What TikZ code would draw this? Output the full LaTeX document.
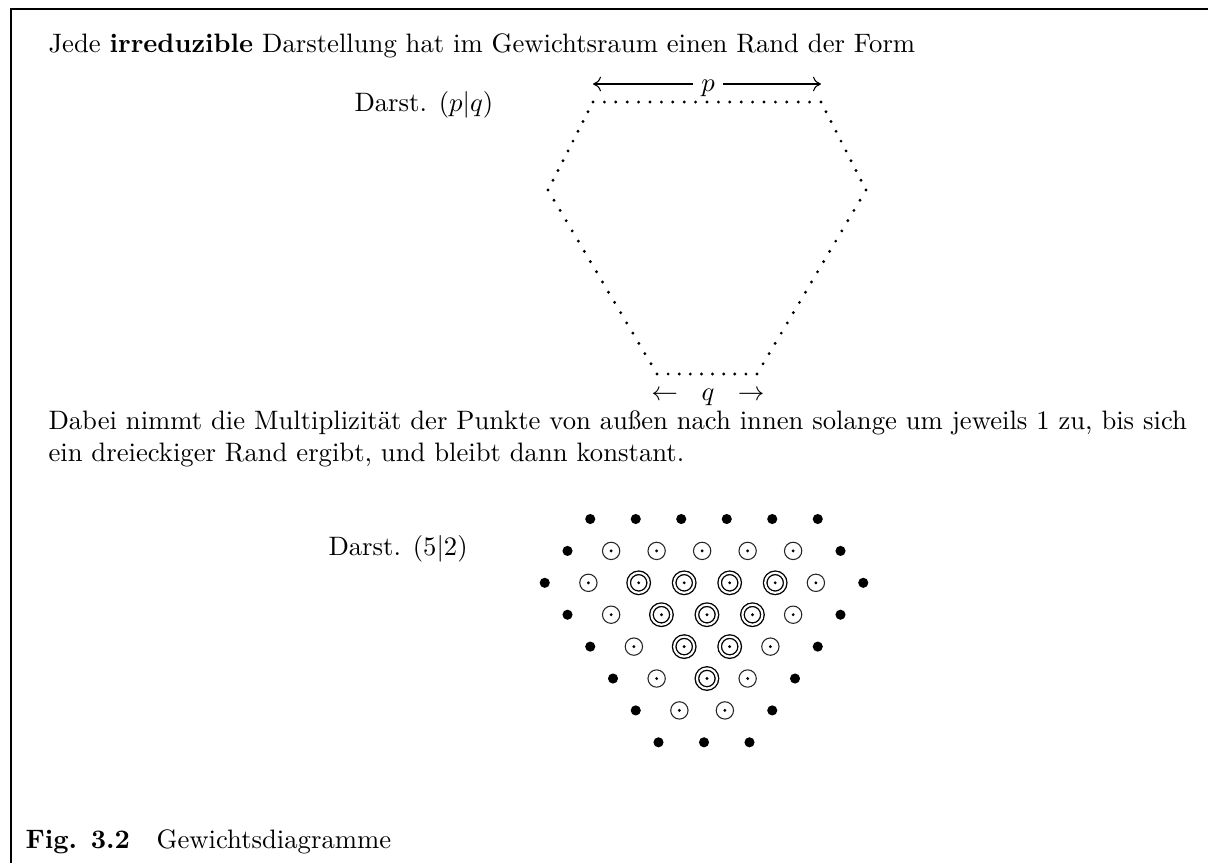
\documentclass[tikz,border=0pt]{standalone}
\usepackage{tikz}
\usetikzlibrary{arrows.meta, calc}

\begin{document}
\begin{tikzpicture}[
    x=0.375pt, y=-0.375pt,
    txt/.style={anchor=base west, inner sep=0pt},
    pfeil/.style={-{Computer Modern Rightarrow[length=3pt, width=5.5pt]}, line width=0.4pt},
    voll/.style={circle, fill=black, inner sep=0pt, minimum size=3.8pt},
    mitte/.style={path picture={\fill (path picture bounding box.center) circle (0.6pt);}},
    einfach/.style={circle, draw=black!85, line width=0.4pt, inner sep=0pt, minimum size=6.5pt, xshift=-0.7pt, mitte},
    zweifach/.style={circle, draw=black, line width=0.5pt, double, double distance=0.8pt, inner sep=0pt, minimum size=7.5pt, xshift=1.1pt, mitte}
]
    \useasboundingbox (0,0) rectangle (1208,863);

    % Rahmen
    \coordinate (eck) at (11,9);
    \draw[line width=0.6pt] (1208,9) -- (eck) -- (11,863);

    \node[txt] (satz1) at (48,52) {Jede \textbf{irreduzible} Darstellung hat im Gewichtsraum einen Rand der Form};
    \node[txt] (darst1) at (354,111) {Darst. $(p|q)$};

    % Rand der Darstellung (p|q)
    \coordinate (A) at (593,102);
    \coordinate (B) at (821,102);
    \coordinate (C) at (866,190);
    \coordinate (D) at (757,374);
    \coordinate (E) at (657,374);
    \coordinate (F) at (548,190);
    \foreach \von/\bis/\anz in {A/B/20, B/C/9, C/D/18, D/E/9, E/F/18, F/A/9}
        \foreach \j in {1,...,\anz} {
            \pgfmathsetmacro\s{\j/\anz}
            \fill ($(\von)!\s!(\bis)$) circle (0.6pt);
        }

    \node[anchor=base, inner xsep=3pt, inner ysep=0pt] (p) at (708,91) {$p$};
    \coordinate (pl) at (593,84);
    \coordinate (pr) at (821,84);
    \draw[pfeil] (p.west |- pl) -- (pl);
    \draw[pfeil] (p.east |- pr) -- (pr);
    \node[anchor=base, inner sep=0pt] (q) at (708,400) {$\leftarrow\hspace{6pt}q\hspace{6pt}\rightarrow$};

    \node[txt] (satz2) at (48,429) {Dabei nimmt die Multiplizität der Punkte von außen nach innen solange um jeweils 1 zu, bis sich};
    \node[txt] (satz3) at (48,461) {ein dreieckiger Rand ergibt, und bleibt dann konstant.};

    % Gewichtsdiagramm (5|2)
    \node[txt] (darst2) at (328,555) {Darst. $(5|2)$};
    \foreach \r/\n in {0/6,1/7,2/8,3/7,4/6,5/5,6/4,7/3}
        \foreach \k in {1,...,\n} {
            \pgfmathsetmacro\gx{704+(\k-(\n+1)/2)*45.5}
            \pgfmathsetmacro\gy{519+\r*31.9}
            \pgfmathtruncatemacro\d{min(\r,\k-1,\n-\k,7-\r,2)}
            \ifcase\d
                \node[voll] (g-\r-\k) at (\gx,\gy) {};
            \or
                \node[einfach] (g-\r-\k) at (\gx,\gy) {};
            \or
                \node[zweifach] (g-\r-\k) at (\gx,\gy) {};
            \fi
        }

    \node[txt] (fig) at (25,848) {\textbf{Fig. 3.2}\quad Gewichtsdiagramme};
\end{tikzpicture}
\end{document}
